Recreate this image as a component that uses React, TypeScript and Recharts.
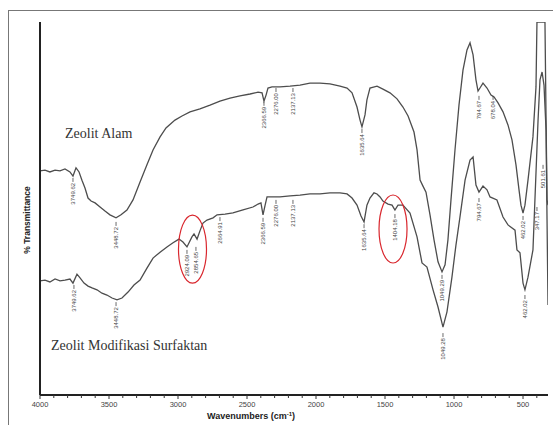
import React from 'react';
import { LineChart, Line, XAxis, YAxis, ReferenceDot } from 'recharts';

// Zeolit Alam (upper trace)
const alamWn = [4000, 3964, 3928, 3891, 3855, 3819, 3783, 3761, 3739, 3717, 3696, 3674, 3652, 3630, 3601, 3565, 3529, 3493, 3449, 3413, 3370, 3326, 3275, 3225, 3181, 3130, 3087, 3022, 2971, 2913, 2841, 2768, 2696, 2623, 2551, 2478, 2420, 2391, 2377, 2362, 2348, 2319, 2261, 2188, 2116, 2044, 1971, 1899, 1826, 1775, 1739, 1703, 1681, 1667, 1645, 1631, 1609, 1558, 1515, 1464, 1413, 1370, 1333, 1290, 1268, 1246, 1225, 1203, 1174, 1145, 1116, 1087, 1065, 1044, 1022, 993, 964, 935, 906, 884, 862, 841, 826, 812, 790, 761, 732, 710, 681, 645, 609, 580, 551, 529, 515, 500, 486, 464, 428, 406, 399, 341, 333, 326, 319];
const alamT = [60.1, 60.3, 59.8, 60.3, 60.1, 60.6, 59.8, 58.7, 60.9, 59.8, 57.6, 55.5, 52.8, 52.0, 51.5, 50.4, 49.3, 48.3, 47.5, 48.3, 49.6, 52.3, 57.1, 61.7, 65.7, 69.2, 71.6, 73.7, 74.8, 75.9, 76.7, 77.7, 78.8, 79.6, 80.2, 80.7, 81.2, 81.0, 78.8, 80.4, 82.3, 82.6, 82.6, 82.8, 83.1, 83.6, 83.6, 83.4, 82.8, 82.3, 81.0, 77.2, 73.7, 71.9, 75.1, 79.1, 82.3, 82.8, 82.0, 81.0, 79.4, 77.2, 74.8, 70.5, 65.7, 57.6, 56.0, 54.4, 48.3, 41.6, 35.7, 33.0, 34.9, 41.6, 52.3, 65.7, 77.7, 87.1, 92.5, 94.4, 91.2, 84.5, 81.5, 82.3, 83.6, 82.3, 80.4, 79.9, 78.3, 75.9, 72.4, 68.4, 61.7, 55.0, 50.9, 48.8, 50.9, 57.6, 69.2, 82.6, 100, 100, 73.7, 52.3, 50.9];

// Zeolit Modifikasi Surfaktan (lower trace)
const modWn = [4000, 3964, 3928, 3891, 3855, 3819, 3783, 3761, 3732, 3710, 3681, 3652, 3623, 3587, 3551, 3515, 3478, 3442, 3406, 3362, 3319, 3275, 3225, 3181, 3130, 3080, 3036, 2993, 2964, 2935, 2899, 2884, 2862, 2841, 2819, 2790, 2746, 2717, 2659, 2602, 2529, 2457, 2420, 2399, 2384, 2370, 2355, 2319, 2261, 2188, 2116, 2044, 1971, 1899, 1826, 1775, 1739, 1703, 1674, 1652, 1631, 1609, 1580, 1558, 1536, 1515, 1478, 1449, 1428, 1406, 1370, 1319, 1268, 1232, 1196, 1152, 1116, 1080, 1051, 1015, 986, 957, 920, 884, 862, 841, 819, 790, 761, 739, 689, 645, 609, 558, 544, 522, 500, 486, 464, 428, 391, 377, 362, 348, 333, 326, 319];
const modT = [30.6, 30.8, 30.3, 31.1, 30.6, 30.8, 31.1, 30.0, 32.4, 31.4, 30.0, 29.2, 28.7, 28.2, 27.3, 26.8, 26.0, 25.5, 26.0, 27.6, 29.5, 30.8, 34.0, 36.7, 38.3, 39.7, 40.8, 41.8, 41.0, 39.7, 42.4, 43.2, 41.8, 44.0, 46.1, 46.9, 47.5, 48.3, 48.5, 48.8, 49.6, 50.4, 51.2, 51.5, 48.3, 50.7, 53.1, 53.1, 53.1, 53.4, 53.6, 53.9, 53.9, 54.2, 54.2, 53.9, 52.8, 50.9, 48.0, 46.4, 50.9, 52.8, 54.2, 53.9, 53.1, 52.0, 51.2, 50.9, 49.6, 50.9, 50.9, 48.8, 42.4, 35.4, 34.3, 28.2, 23.6, 18.2, 22.3, 31.6, 40.2, 47.7, 57.6, 63.0, 63.8, 56.3, 54.4, 56.0, 55.0, 53.1, 52.3, 47.7, 45.6, 44.2, 38.9, 38.1, 30.0, 28.2, 31.6, 38.9, 73.7, 84.5, 86.6, 83.1, 71.0, 46.9, 24.1];

// peak labels: [wavenumber, top of leader, text]
const alamPeaks: [number, number, string][] = [
  [3761, 58.2, '3749.62'], [3449, 46.4, '3448.72'], [2377, 78.6, '2366.59'],
  [2290, 82.3, '2276.00'], [2167, 82.3, '2137.13'], [1667, 71.3, '1635.64'],
  [1087, 32.2, '1049.29'], [819, 80.2, '794.67'], [717, 80.2, '678.04'],
  [500, 48.0, '462.02'], [399, 50.4, '347.17'], [355, 61.7, '501.61'],
];
const modPeaks: [number, number, string][] = [
  [3754, 29.5, '3749.62'], [3449, 24.9, '3448.72'], [2935, 38.9, '2924.09'],
  [2870, 39.7, '2854.65'], [2696, 47.7, '2664.91'], [2384, 47.5, '2366.59'],
  [2290, 52.3, '2276.00'], [2167, 52.3, '2137.13'], [1652, 45.8, '1635.64'],
  [1428, 48.5, '1404.18'], [1080, 16.6, '1049.28'], [819, 52.8, '794.67'],
  [486, 26.8, '462.02'],
];
// red circles around the surfactant bands
const circles: [number, number][] = [[2895, 39.1], [1442, 44.5]];

const majorTicks = [4000, 3500, 3000, 2500, 2000, 1500, 1000, 500];
const allTicks = [4000, 3900, 3800, 3700, 3600, 3500, 3400, 3300, 3200, 3100, 3000, 2900, 2800, 2700, 2600, 2500, 2400, 2300, 2200, 2100, 2000, 1900, 1800, 1700, 1600, 1500, 1400, 1300, 1200, 1100, 1000, 900, 800, 700, 600, 500, 400];

const alamData = alamWn.map((w, i) => ({ wn: w, t: alamT[i] }));
const modData = modWn.map((w, i) => ({ wn: w, t: modT[i] }));

const sans = "Arial, 'Liberation Sans', sans-serif";

const WnTick = (props: any) => {
    const { x, y, payload } = props;
    const major = majorTicks.includes(payload.value);
    return (
        <g>
            <line x1={x} y1={y} x2={x} y2={y + (major ? 4 : 3)} stroke="#333" strokeWidth={1} />
            {major && (
                <text x={x} y={y + 12} textAnchor="middle" fontSize={7.5} fontFamily={sans} fill="#444">
                    {payload.value}
                </text>
            )}
        </g>
    );
};

const peakShape = (label: string) => (props: any) => {
    const { cx, cy } = props;
    return (
        <g>
            <line x1={cx} y1={cy} x2={cx} y2={cy + 4} stroke="#444" strokeWidth={0.8} />
            <text
                x={cx}
                y={cy + 5}
                transform={`rotate(-90 ${cx} ${cy + 5})`}
                textAnchor="end"
                dominantBaseline="central"
                fontSize={6}
                fontFamily={sans}
                fill="#444"
            >
                {label}
            </text>
        </g>
    );
};

const ellipseShape = (props: any) => (
    <ellipse cx={props.cx} cy={props.cy} rx={14} ry={34} fill="none" stroke="#d9272e" strokeWidth={1.2} />
);

export default function App() {
    return (
        <div style={{ position: 'absolute', left: 0, top: 0, width: 553, height: 425, overflow: 'hidden', background: '#fff' }}>
            <LineChart width={553} height={425} margin={{ top: 22, right: 5, bottom: 0, left: 39 }}>
                <XAxis
                    dataKey="wn"
                    type="number"
                    domain={[319, 4000]}
                    reversed
                    allowDataOverflow
                    ticks={allTicks}
                    interval={0}
                    height={30}
                    tickSize={0}
                    tickMargin={0}
                    tickLine={false}
                    tick={<WnTick />}
                    axisLine={{ stroke: '#222', strokeWidth: 2 }}
                />
                <YAxis
                    type="number"
                    domain={[0, 100]}
                    allowDataOverflow
                    width={1}
                    tick={false}
                    tickLine={false}
                    axisLine={{ stroke: '#222', strokeWidth: 2 }}
                />
                <Line data={alamData} dataKey="t" type="linear" stroke="#4d4d4d" strokeWidth={1.3} dot={false} isAnimationActive={false} />
                <Line data={modData} dataKey="t" type="linear" stroke="#4d4d4d" strokeWidth={1.3} dot={false} isAnimationActive={false} />
                {alamPeaks.map(([w, t, s]) => (
                    <ReferenceDot key={'a' + s + w} x={w} y={t} r={1} shape={peakShape(s)} />
                ))}
                {modPeaks.map(([w, t, s]) => (
                    <ReferenceDot key={'m' + s + w} x={w} y={t} r={1} shape={peakShape(s)} />
                ))}
                {circles.map(([w, t]) => (
                    <ReferenceDot key={'c' + w} x={w} y={t} r={1} shape={ellipseShape} />
                ))}
            </LineChart>
            <svg width={553} height={425} style={{ position: 'absolute', left: 0, top: 0, pointerEvents: 'none' }}>
                <rect x={8.5} y={10.5} width={600} height={500} fill="none" stroke="#777" strokeWidth={1} />
                <text x={65} y={138} fontSize={14} fontFamily="'Liberation Serif', 'Times New Roman', serif" fill="#333">
                    Zeolit Alam
                </text>
                <text x={51} y={350} fontSize={14} fontFamily="'Liberation Serif', 'Times New Roman', serif" fill="#333">
                    Zeolit Modifikasi Surfaktan
                </text>
                <text x={251} y={419} textAnchor="middle" fontSize={9} fontWeight="bold" fontFamily={sans} fill="#222">
                    <tspan>Wavenumbers (cm</tspan>
                    <tspan dy={-3} fontSize={6}>-1</tspan>
                    <tspan dy={3}>)</tspan>
                </text>
                <text
                    x={27}
                    y={220}
                    transform="rotate(-90 27 220)"
                    textAnchor="middle"
                    dominantBaseline="central"
                    fontSize={8.5}
                    fontWeight="bold"
                    fontFamily={sans}
                    fill="#222"
                >
                    % Transmittance
                </text>
            </svg>
        </div>
    );
}
